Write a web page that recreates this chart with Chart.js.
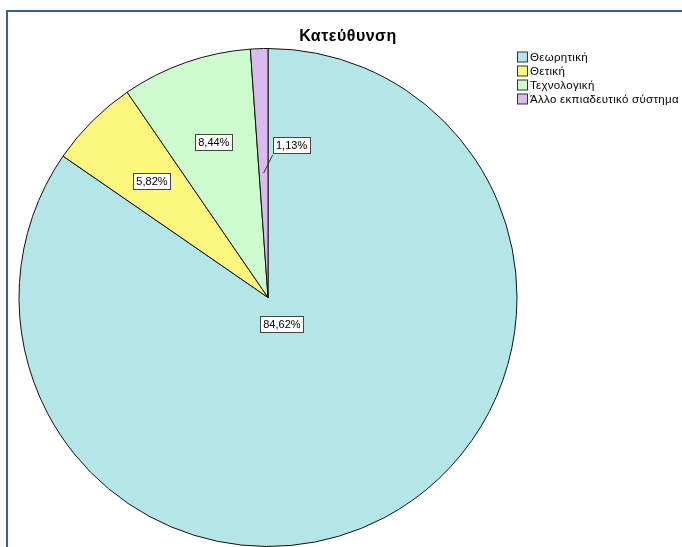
<!DOCTYPE html>
<html>
<head>
<meta charset="utf-8">
<script src="https://cdn.jsdelivr.net/npm/chart.js@4.4.1/dist/chart.umd.min.js"></script>
<style>
  html, body { margin: 0; padding: 0; background: #fff; }
  #wrap { position: relative; width: 682px; height: 547px; overflow: hidden; }
  #frame { position: absolute; left: 6px; top: 10px; width: 700px; height: 600px;
           border-left: 2px solid #3b5f9c; border-top: 2px solid #3b5f9c; }
  canvas { position: absolute; left: 0; top: 0; }
</style>
</head>
<body>
<div id="wrap">
  <div id="frame"></div>
  <canvas id="pieChart" width="682" height="547"></canvas>
</div>
<script>
// Κατεύθυνση - pie data
const categories = ['Θεωρητική', 'Θετική', 'Τεχνολογική', 'Άλλο εκπιαδευτικό σύστημα'];
const percentValues = [84.62, 5.82, 8.44, 1.13];
const sliceColors = ['#b4e6e8', '#fbf77c', '#cdfbcd', '#dbbaf0'];
const chartTitle = 'Κατεύθυνση';

// label placement (fraction of radius from centre)
const labelRadius = [0.12, 0.66, 0.66, 0.5];

function formatPct(v) {
    return v.toFixed(2).replace('.', ',') + '%';
}

// Draw title, legend and value boxes like the SPSS output
const spssDecor = {
    id: 'spssDecor',
    afterDraw(chart) {
        const ctx = chart.ctx;
        const meta = chart.getDatasetMeta(0);
        ctx.save();

        // title
        ctx.font = 'bold 16px "Liberation Sans", Arial, sans-serif';
        ctx.letterSpacing = '0.5px';
        ctx.fillStyle = '#000';
        ctx.textAlign = 'center';
        ctx.textBaseline = 'middle';
        ctx.fillText(chartTitle, 348, 37);

        // legend
        ctx.font = '11.5px "Liberation Sans", Arial, sans-serif';
        ctx.letterSpacing = '0.3px';
        ctx.textAlign = 'left';
        categories.forEach((name, i) => {
            const y = 57 + i * 14;
            ctx.fillStyle = sliceColors[i];
            ctx.fillRect(517.5, y - 5, 10, 10);
            ctx.strokeStyle = '#333';
            ctx.lineWidth = 1;
            ctx.strokeRect(517.5, y - 5, 10, 10);
            ctx.fillStyle = '#000';
            ctx.fillText(name, 530, y + 1);
        });

        // value labels
        ctx.font = '11px "Liberation Sans", Arial, sans-serif';
        ctx.letterSpacing = '0px';
        ctx.textAlign = 'center';
        meta.data.forEach((arc, i) => {
            const p = arc.getProps(['x', 'y', 'startAngle', 'endAngle', 'outerRadius'], true);
            const mid = (p.startAngle + p.endAngle) / 2;
            let lx = p.x + Math.cos(mid) * p.outerRadius * labelRadius[i];
            let ly = p.y + Math.sin(mid) * p.outerRadius * labelRadius[i];
            if (i === categories.length - 1) {
                // small slice: box is pushed aside with a leader line
                const bx = lx + 28, by = ly - 28;
                ctx.strokeStyle = '#333';
                ctx.beginPath();
                ctx.moveTo(lx, ly);
                ctx.lineTo(lx + 9, ly - 18);
                ctx.stroke();
                lx = bx; ly = by;
            }
            const text = formatPct(percentValues[i]);
            const w = ctx.measureText(text).width + 6;
            const h = 16;
            ctx.fillStyle = '#fff';
            ctx.fillRect(Math.round(lx - w / 2) + 0.5, Math.round(ly - h / 2) + 0.5, Math.round(w), h);
            ctx.strokeStyle = '#444';
            ctx.lineWidth = 1;
            ctx.strokeRect(Math.round(lx - w / 2) + 0.5, Math.round(ly - h / 2) + 0.5, Math.round(w), h);
            ctx.fillStyle = '#000';
            ctx.fillText(text, lx, ly + 1);
        });
        ctx.restore();
    }
};

new Chart(document.getElementById('pieChart'), {
    type: 'pie',
    data: {
        labels: categories,
        datasets: [{
            data: percentValues,
            backgroundColor: sliceColors,
            borderColor: '#111',
            borderWidth: 1
        }]
    },
    options: {
        responsive: false,
        animation: false,
        layout: {
            padding: { left: 18, right: 164, top: 48, bottom: 0 }
        },
        plugins: {
            legend: { display: false },
            title: { display: false },
            tooltip: { enabled: false }
        }
    },
    plugins: [spssDecor]
});
</script>
</body>
</html>
